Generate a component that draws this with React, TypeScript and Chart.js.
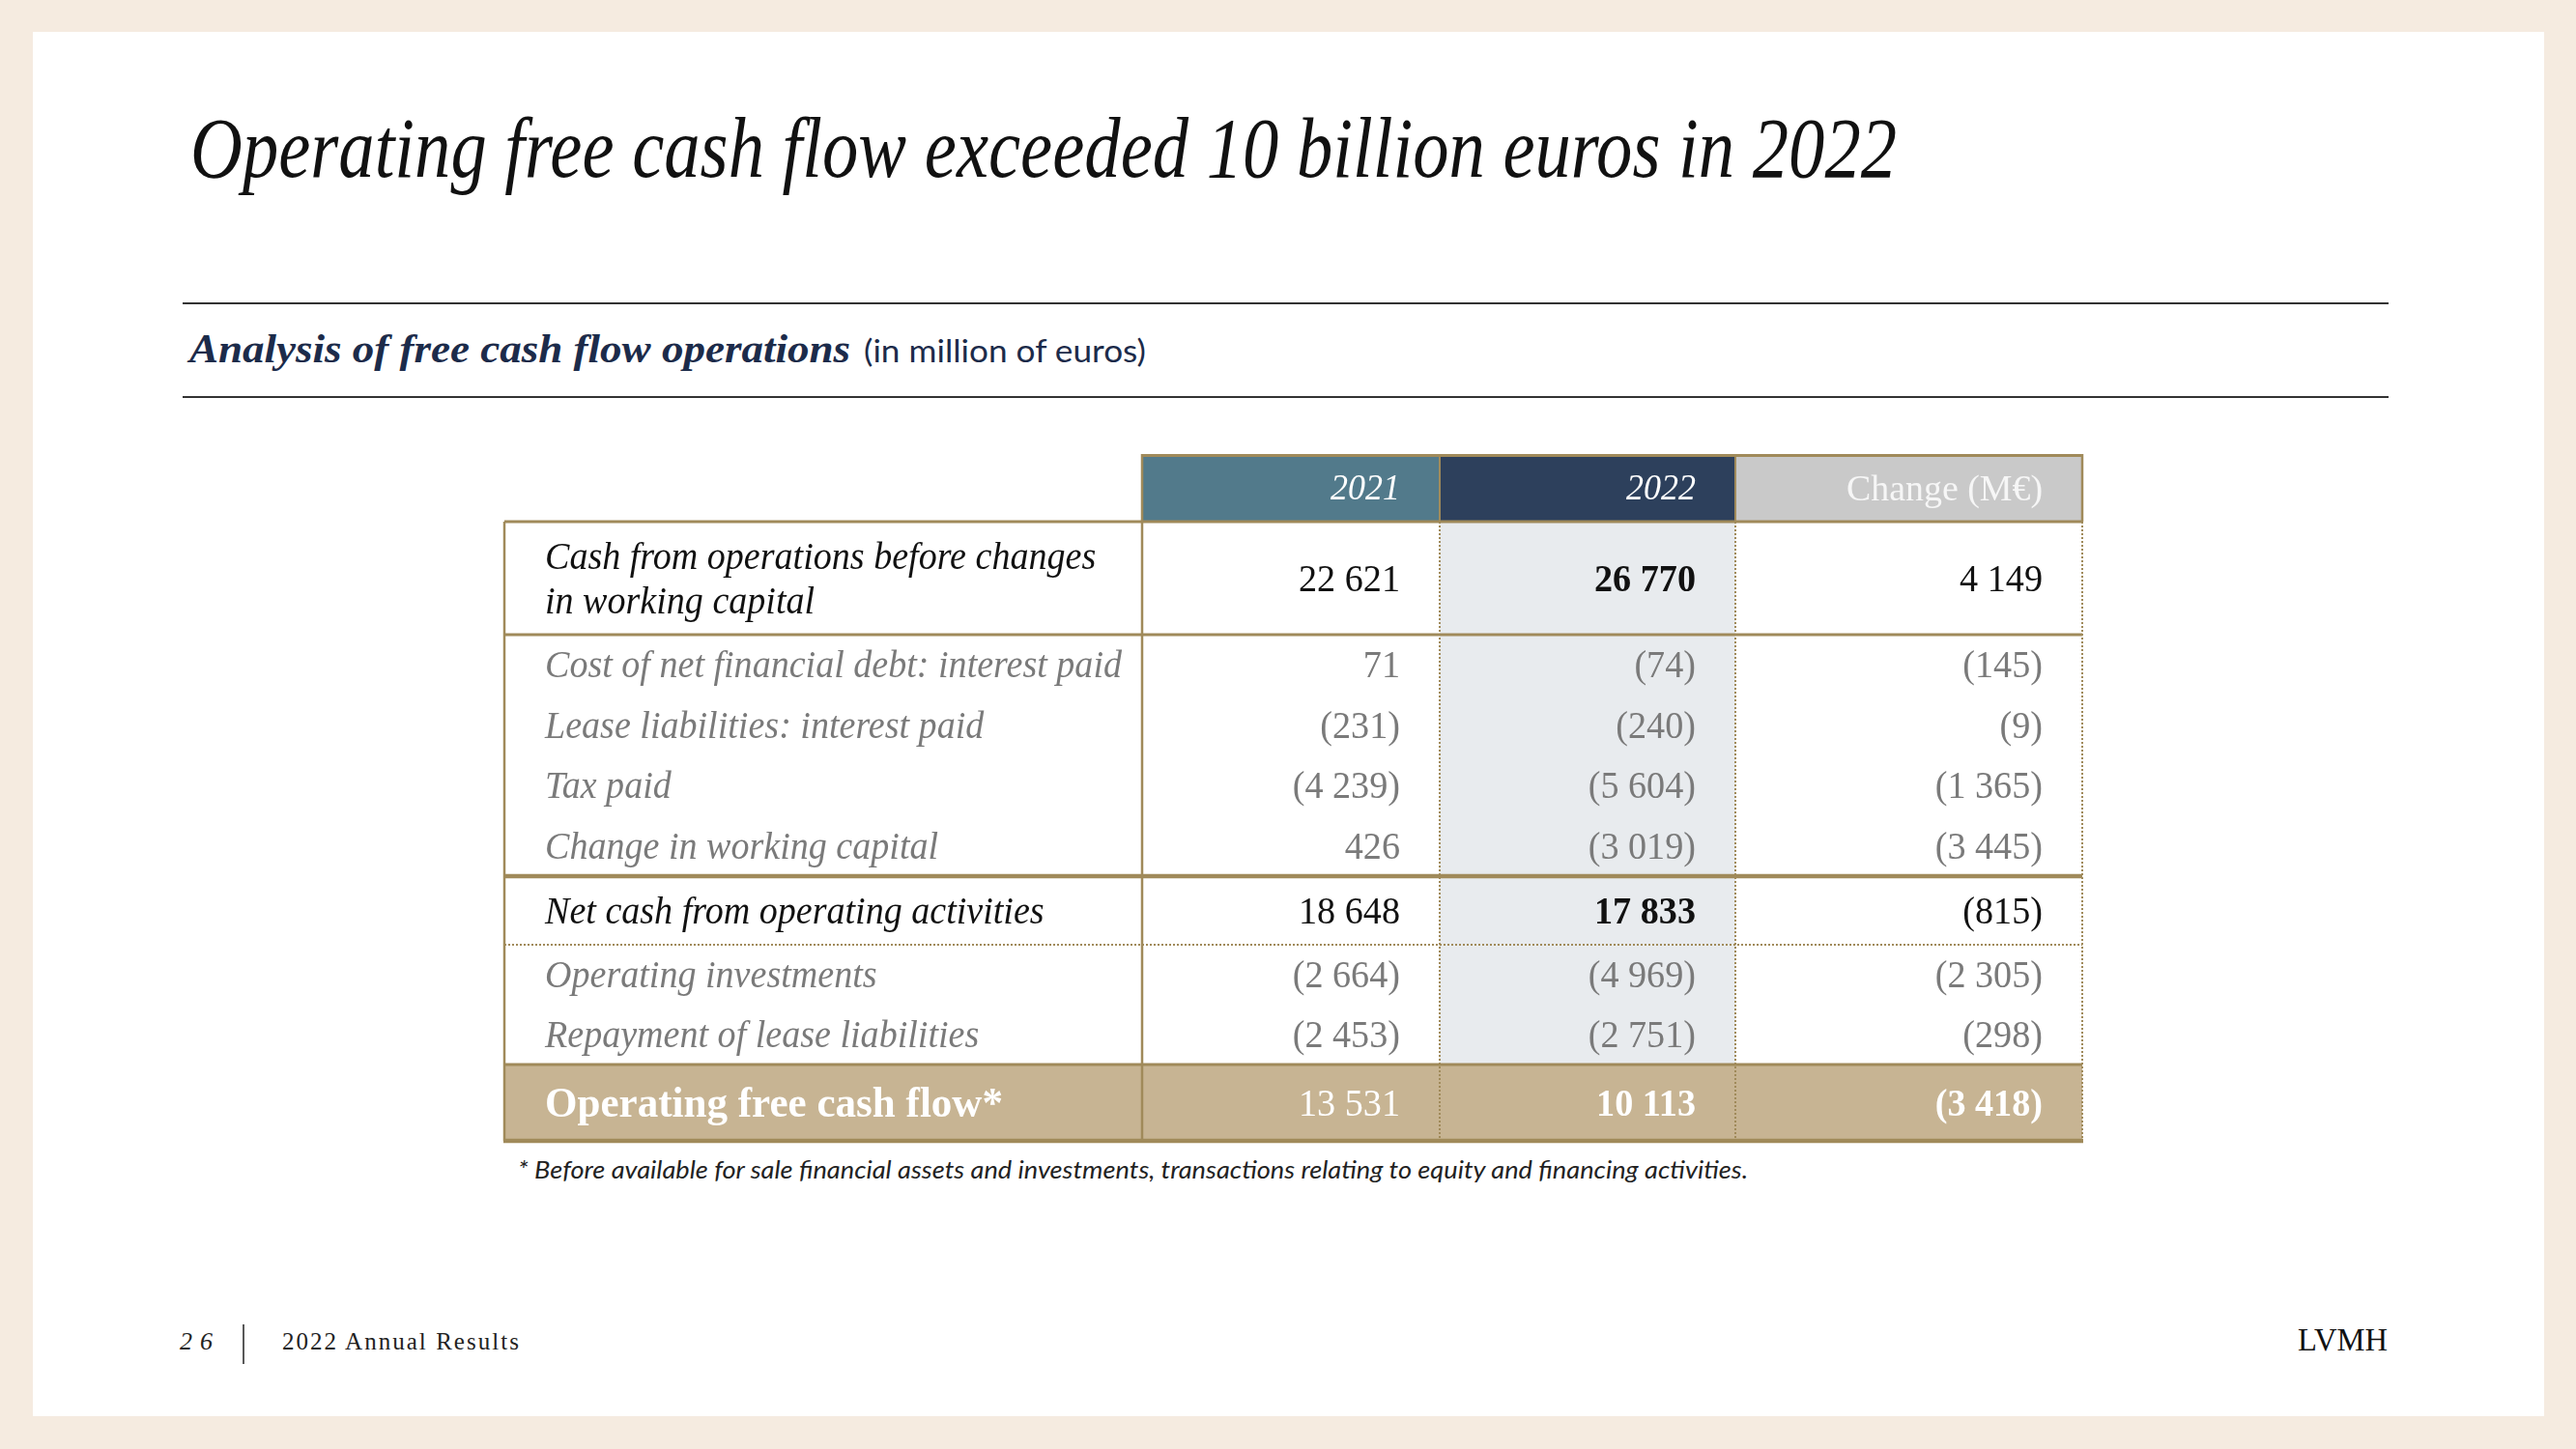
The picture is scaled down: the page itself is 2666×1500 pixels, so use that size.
import React, { useEffect, useRef } from 'react';
import { Chart, registerables } from 'chart.js';

Chart.register(...registerables);

// ---------------- data ----------------
const TITLE = 'Operating free cash flow exceeded 10 billion euros in 2022';
const SUBTITLE_MAIN = 'Analysis of free cash flow operations';
const SUBTITLE_UNIT = '(in million of euros)';
const FOOTNOTE = '* Before available for sale financial assets and investments, transactions relating to equity and financing activities.';
const PAGE_NUMBER = '26';
const FOOTER_LABEL = '2022 Annual Results';
const BRAND = 'LVMH';

const columnHeaders = ['2021', '2022', 'Change (M€)'];
const rowLabels = [
  'Cash from operations before changes\nin working capital',
  'Cost of net financial debt: interest paid',
  'Lease liabilities: interest paid',
  'Tax paid',
  'Change in working capital',
  'Net cash from operating activities',
  'Operating investments',
  'Repayment of lease liabilities',
  'Operating free cash flow*',
];
const values2021 = [22621, 71, -231, -4239, 426, 18648, -2664, -2453, 13531];
const values2022 = [26770, -74, -240, -5604, -3019, 17833, -4969, -2751, 10113];
const valuesChange = [4149, -145, -9, -1365, -3445, -815, -2305, -298, -3418];

// ---------------- layout / style ----------------
const rowKinds = ['main', 'detail', 'detail', 'detail', 'detail', 'main', 'detail', 'detail', 'total'];
const COL_UNITS = [660, 308, 306, 359];
const ROW_UNITS = [70, 117, 62.5, 62.5, 62.5, 62.5, 71, 62, 62, 79];

const SERIF = '"Liberation Serif", "Times New Roman", serif';
const GOLD = '#a08a5a';
const HEADER_COLORS = ['#527a8b', '#2d405c', '#c9c9c9'];
const COL2022_BG = '#e8ebee';
const TOTAL_BG = '#c7b493';
const DETAIL_TEXT = '#7a7a7a';
const MAIN_TEXT = '#111111';

const LABEL_FONT = `italic 40px ${SERIF}`;
const NUM_FONT = `40px ${SERIF}`;
const NUM_BOLD_FONT = `bold 40px ${SERIF}`;
const HEAD_YEAR_FONT = `italic 37px ${SERIF}`;
const HEAD_CHANGE_FONT = `37px ${SERIF}`;
const TOTAL_LABEL_FONT = `bold 44px ${SERIF}`;

const cumulative = (arr: number[]) => {
  const out = [0];
  arr.forEach((v) => out.push(out[out.length - 1] + v));
  return out;
};

const fmt = (v: number) => {
  const s = Math.abs(v).toString().replace(/\B(?=(\d{3})+(?!\d))/g, ' ');
  return v < 0 ? `(${s})` : s;
};

const tablePlugin = {
  id: 'cashFlowTable',
  afterDraw(chart: any) {
    const ctx: CanvasRenderingContext2D = chart.ctx;
    const xs = chart.scales.x;
    const ys = chart.scales.y;
    const colEdge = cumulative(COL_UNITS).map((v) => xs.getPixelForValue(v));
    const rowEdge = cumulative(ROW_UNITS).map((v) => ys.getPixelForValue(v));
    const left = colEdge[0];
    const right = colEdge[colEdge.length - 1];

    const fitFactor = (font: string, ref: string, target: number) => {
      ctx.save();
      ctx.font = font;
      const w = ctx.measureText(ref).width;
      ctx.restore();
      return w > 0 ? target / w : 1;
    };
    const labelSx = fitFactor(LABEL_FONT, rowLabels[1], 597);
    const numSx = fitFactor(NUM_FONT, '22 621', 105);
    const yearSx = fitFactor(HEAD_YEAR_FONT, '2021', 72);
    const changeSx = fitFactor(HEAD_CHANGE_FONT, columnHeaders[2], 203);
    const totalSx = fitFactor(TOTAL_LABEL_FONT, rowLabels[8], 474);

    const text = (t: string, x: number, base: number, font: string, color: string, align: CanvasTextAlign, sx: number) => {
      ctx.save();
      ctx.font = font;
      ctx.fillStyle = color;
      ctx.textAlign = align;
      ctx.textBaseline = 'alphabetic';
      ctx.translate(x, base);
      ctx.scale(sx, 1);
      ctx.fillText(t, 0, 0);
      ctx.restore();
    };
    const line = (x1: number, y1: number, x2: number, y2: number, w: number, dotted = false) => {
      ctx.save();
      ctx.strokeStyle = GOLD;
      ctx.lineWidth = w;
      if (dotted) ctx.setLineDash([2, 2]);
      ctx.beginPath();
      ctx.moveTo(x1, y1);
      ctx.lineTo(x2, y2);
      ctx.stroke();
      ctx.restore();
    };

    ctx.save();
    for (let c = 1; c <= 3; c++) {
      ctx.fillStyle = HEADER_COLORS[c - 1];
      ctx.fillRect(colEdge[c], rowEdge[0], colEdge[c + 1] - colEdge[c], rowEdge[1] - rowEdge[0]);
    }
    ctx.fillStyle = COL2022_BG;
    ctx.fillRect(colEdge[2], rowEdge[1], colEdge[3] - colEdge[2], rowEdge[9] - rowEdge[1]);
    ctx.fillStyle = TOTAL_BG;
    ctx.fillRect(left, rowEdge[9], right - left, rowEdge[10] - rowEdge[9]);
    ctx.restore();

    [2, 3, 4].forEach((c) => line(colEdge[c], rowEdge[1], colEdge[c], rowEdge[10], 2, true));
    line(left, rowEdge[7], right, rowEdge[7], 2, true);

    line(colEdge[1], rowEdge[0] + 1.5, right + 1, rowEdge[0] + 1.5, 3);
    [2, 3].forEach((c) => line(colEdge[c], rowEdge[0], colEdge[c], rowEdge[1], 2));
    line(right, rowEdge[0], right, rowEdge[1], 2.5);
    line(left, rowEdge[1], right, rowEdge[1], 3);
    line(left, rowEdge[2], right, rowEdge[2], 3);
    line(left, rowEdge[6], right, rowEdge[6], 4.5);
    line(left, rowEdge[9], right, rowEdge[9], 3);
    line(left - 1, rowEdge[10], right + 1, rowEdge[10], 4.5);
    line(left, rowEdge[1], left, rowEdge[10], 2.5);
    line(colEdge[1], rowEdge[0], colEdge[1], rowEdge[10], 2.5);

    const hCenter = (rowEdge[0] + rowEdge[1]) / 2;
    text(columnHeaders[0], colEdge[2] - 41, hCenter + 12, HEAD_YEAR_FONT, '#ffffff', 'right', yearSx);
    text(columnHeaders[1], colEdge[3] - 41, hCenter + 12, HEAD_YEAR_FONT, '#ffffff', 'right', yearSx);
    text(columnHeaders[2], colEdge[4] - 41, hCenter + 13, HEAD_CHANGE_FONT, '#f6f6f6', 'right', changeSx);

    const columns = [values2021, values2022, valuesChange];
    rowLabels.forEach((label, i) => {
      const r = i + 1;
      const cy = (rowEdge[r] + rowEdge[r + 1]) / 2;
      const kind = rowKinds[i];
      const color = kind === 'detail' ? DETAIL_TEXT : kind === 'total' ? '#ffffff' : MAIN_TEXT;
      const lines = label.split('\n');
      if (kind === 'total') {
        text(label, left + 42, cy + 14, TOTAL_LABEL_FONT, color, 'left', totalSx);
      } else if (lines.length > 1) {
        text(lines[0], left + 42, cy - 23 + 13, LABEL_FONT, color, 'left', labelSx);
        text(lines[1], left + 42, cy + 23 + 13, LABEL_FONT, color, 'left', labelSx);
      } else {
        text(label, left + 42, cy + 13, LABEL_FONT, color, 'left', labelSx);
      }
      columns.forEach((vals, c) => {
        const bold = (kind !== 'detail' && c === 1) || (kind === 'total' && c === 2);
        text(fmt(vals[i]), colEdge[c + 2] - 41, cy + 13, bold ? NUM_BOLD_FONT : NUM_FONT, color, 'right', numSx);
      });
    });
  },
};

export default function App() {
  const canvasRef = useRef<HTMLCanvasElement>(null);

  useEffect(() => {
    const canvas = canvasRef.current;
    if (!canvas) return;
    const chart = new Chart(canvas, {
      type: 'scatter',
      data: { datasets: [] },
      options: {
        animation: false,
        responsive: false,
        maintainAspectRatio: false,
        devicePixelRatio: 1,
        layout: { padding: { left: 10, top: 10, right: 13, bottom: 11 } },
        plugins: { legend: { display: false }, tooltip: { enabled: false }, title: { display: false } },
        scales: {
          x: { type: 'linear', min: 0, max: COL_UNITS.reduce((a, b) => a + b, 0), display: false },
          y: { type: 'linear', min: 0, max: ROW_UNITS.reduce((a, b) => a + b, 0), reverse: true, display: false },
        },
      },
      plugins: [tablePlugin],
    } as any);
    return () => chart.destroy();
  }, []);

  return (
    <div style={{ position: 'fixed', left: 0, top: 0, width: 2666, height: 1500, overflow: 'hidden' }}>
      <svg width={2666} height={1500} style={{ position: 'absolute', left: 0, top: 0 }}>
        <rect x={0} y={0} width={2666} height={1500} fill="#f5ebe0" />
        <rect x={34} y={33} width={2599} height={1433} fill="#ffffff" />
        <text x={197} y={183} fontFamily={SERIF} fontStyle="italic" fontSize={88} fill="#111"
          textLength={1766} lengthAdjust="spacingAndGlyphs">{TITLE}</text>
        <line x1={189} y1={314} x2={2472} y2={314} stroke="#333" strokeWidth={2} />
        <line x1={189} y1={411} x2={2472} y2={411} stroke="#333" strokeWidth={2} />
        <text x={196} y={375} fontFamily={SERIF} fontStyle="italic" fontWeight="bold" fontSize={42} fill="#1c2b4a"
          textLength={684} lengthAdjust="spacingAndGlyphs">{SUBTITLE_MAIN}</text>
        <text x={894} y={375} fontFamily="Lato, 'Open Sans', sans-serif" fontSize={32} fill="#1c2b4a"
          textLength={292} lengthAdjust="spacingAndGlyphs">{SUBTITLE_UNIT}</text>
        <text x={536} y={1220} fontFamily="Lato, 'Open Sans', sans-serif" fontStyle="italic" fontSize={25} fill="#222"
          textLength={1273} lengthAdjust="spacingAndGlyphs">{FOOTNOTE}</text>
        <text x={186} y={1397} fontFamily={SERIF} fontStyle="italic" fontSize={26} fill="#222"
          textLength={34} lengthAdjust="spacing">{PAGE_NUMBER}</text>
        <line x1={252} y1={1371} x2={252} y2={1412} stroke="#222" strokeWidth={1.5} />
        <text x={292} y={1397} fontFamily={SERIF} fontSize={25} fill="#222"
          textLength={245} lengthAdjust="spacing">{FOOTER_LABEL}</text>
        <text x={2378} y={1398} fontFamily={SERIF} fontSize={33} fill="#111"
          textLength={93} lengthAdjust="spacingAndGlyphs">{BRAND}</text>
      </svg>
      <canvas ref={canvasRef} width={1656} height={732}
        style={{ position: 'absolute', left: 512, top: 460, width: 1656, height: 732 }} />
    </div>
  );
}
